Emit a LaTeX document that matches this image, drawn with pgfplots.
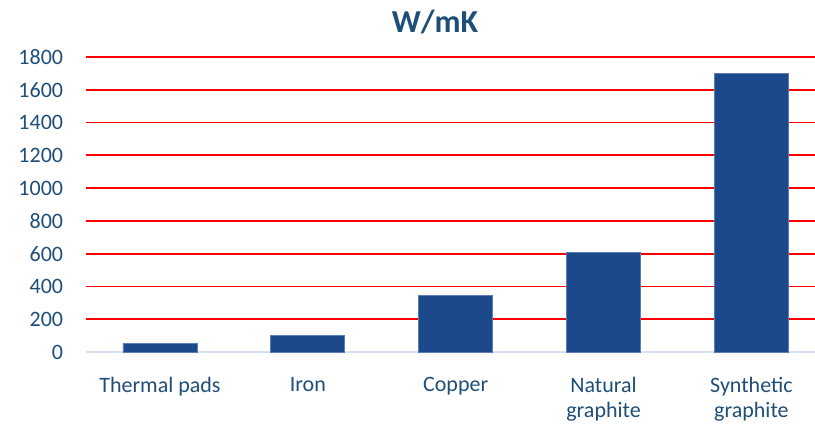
\documentclass[border=0pt]{standalone}
\usepackage{pgfplots}
\pgfplotsset{compat=1.18}
\usepackage{fontspec}
\setmainfont{Carlito}
\definecolor{barblue}{HTML}{1B498B}
\definecolor{baredge}{HTML}{5A7DB5}
\definecolor{txtblue}{HTML}{1F4E79}
\definecolor{basecol}{HTML}{D6E0F0}
\begin{document}
\begin{tikzpicture}
\useasboundingbox (-64.5pt,-54.75pt) rectangle (546.75pt,264pt);
\begin{axis}[
  at={(0pt,0pt)}, anchor=south west,
  scale only axis,
  width=546.75pt, height=221.25pt,
  xmin=-0.5, xmax=4.43,
  ymin=0, ymax=1800,
  axis line style={draw=none},
  ytick={200,400,...,1800},
  extra y ticks={0},
  extra y tick style={grid=none},
  ymajorgrids,
  major grid style={red, line width=1.3pt},
  major tick length=0pt,
  xtick={0,1,2,3,4},
  xticklabels={Thermal pads, Iron, Copper, {Natural\\graphite}, {Synthetic\\graphite}},
  /pgf/number format/assume math mode=true,
  /pgf/number format/1000 sep={},
  yticklabel style={font=\fontsize{16.5}{19}\selectfont, text=txtblue, anchor=east, inner sep=0pt, xshift=-17pt},
  xticklabel style={font=\fontsize{16.5}{19}\selectfont, text=txtblue, align=center, anchor=north, inner sep=0pt, yshift=-18.5pt},
  clip=false,
]
\draw[basecol, line width=1.5pt] (axis cs:-0.5,0) -- (axis cs:4.43,0);
\addplot[ybar, bar width=0.5, fill=barblue, draw=baredge, line width=0.6pt] coordinates {
  (0,50) (1,100) (2,345) (3,605) (4,1700)
};
\end{axis}
\node[anchor=base, text=txtblue, font=\fontsize{24}{28}\selectfont\bfseries] at (261.75pt,239.25pt) {W/mK};
\end{tikzpicture}
\end{document}
